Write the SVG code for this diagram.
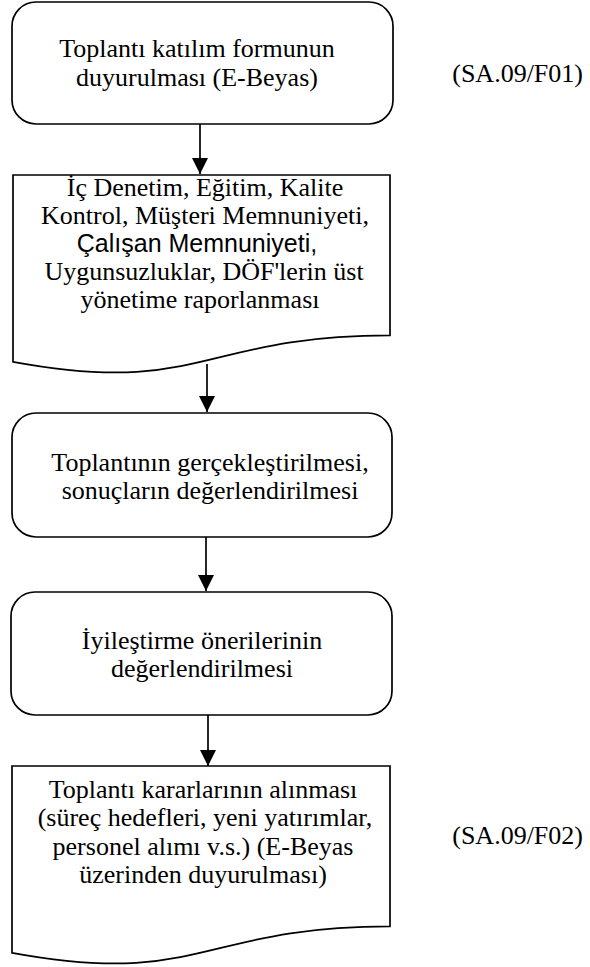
<svg xmlns="http://www.w3.org/2000/svg" width="590" height="967" viewBox="0 0 590 967">
  <style>
    .box { fill: #ffffff; stroke: #000000; stroke-width: 1.7; }
    .t { font-family: "Liberation Serif", "Times New Roman", serif; font-size: 26px; fill: #000000; text-anchor: middle; }
    .s { font-family: "Liberation Sans", Arial, sans-serif; font-size: 25px; fill: #000000; text-anchor: middle; }
    .ref { font-family: "Liberation Serif", "Times New Roman", serif; font-size: 26px; fill: #000000; text-anchor: end; }
    .conn { stroke: #000000; stroke-width: 1.7; fill: none; marker-end: url(#arrow); }
  </style>
  <defs>
    <marker id="arrow" markerUnits="userSpaceOnUse" markerWidth="16" markerHeight="16" refX="16" refY="8" orient="auto">
      <path d="M0,0 L16,8 L0,16 Z" fill="#000000"/>
    </marker>
  </defs>
  <rect width="590" height="967" fill="#ffffff"/>

  <g id="connectors">
    <line class="conn" x1="200" y1="124" x2="200" y2="174"/>
    <line class="conn" x1="207" y1="364" x2="207" y2="412"/>
    <line class="conn" x1="206" y1="537" x2="206" y2="591"/>
    <line class="conn" x1="208" y1="715" x2="208" y2="766"/>
  </g>

  <g id="node1">
    <rect class="box" x="12" y="2" width="381" height="122" rx="24" ry="24"/>
    <text class="t" x="197" y="57">Toplantı katılım formunun</text>
    <text class="t" x="197" y="86">duyurulması (E-Beyas)</text>
  </g>

  <g id="ref1">
    <text class="ref" x="583" y="82">(SA.09/F01)</text>
  </g>

  <g id="node2">
    <path class="box" d="M13,175 H390 V335.4 C201.5,335.4 201.5,396.6 13,361.8 Z"/>
    <text class="t" x="205" y="196">İç Denetim, Eğitim, Kalite</text>
    <text class="t" x="205" y="224">Kontrol, Müşteri Memnuniyeti,</text>
    <text class="s" x="197" y="252">Çalışan Memnuniyeti,</text>
    <text class="t" x="204" y="280">Uygunsuzluklar, DÖF'lerin üst</text>
    <text class="t" x="200" y="308">yönetime raporlanması</text>
  </g>

  <g id="node3">
    <rect class="box" x="12" y="413" width="380" height="124" rx="24" ry="24"/>
    <text class="t" x="210" y="471">Toplantının gerçekleştirilmesi,</text>
    <text class="t" x="210" y="499">sonuçların değerlendirilmesi</text>
  </g>

  <g id="node4">
    <rect class="box" x="11" y="592" width="381" height="123" rx="24" ry="24"/>
    <text class="t" x="202" y="649">İyileştirme önerilerinin</text>
    <text class="t" x="202" y="677">değerlendirilmesi</text>
  </g>

  <g id="node5">
    <path class="box" d="M12,766 H390 V926.4 C201,926.4 201,987.6 12,952.8 Z"/>
    <text class="t" x="203" y="798">Toplantı kararlarının alınması</text>
    <text class="t" x="205" y="826">(süreç hedefleri, yeni yatırımlar,</text>
    <text class="t" x="203" y="855">personel alımı v.s.) (E-Beyas</text>
    <text class="t" x="203" y="883">üzerinden duyurulması)</text>
  </g>

  <g id="ref2">
    <text class="ref" x="583" y="844">(SA.09/F02)</text>
  </g>
</svg>
